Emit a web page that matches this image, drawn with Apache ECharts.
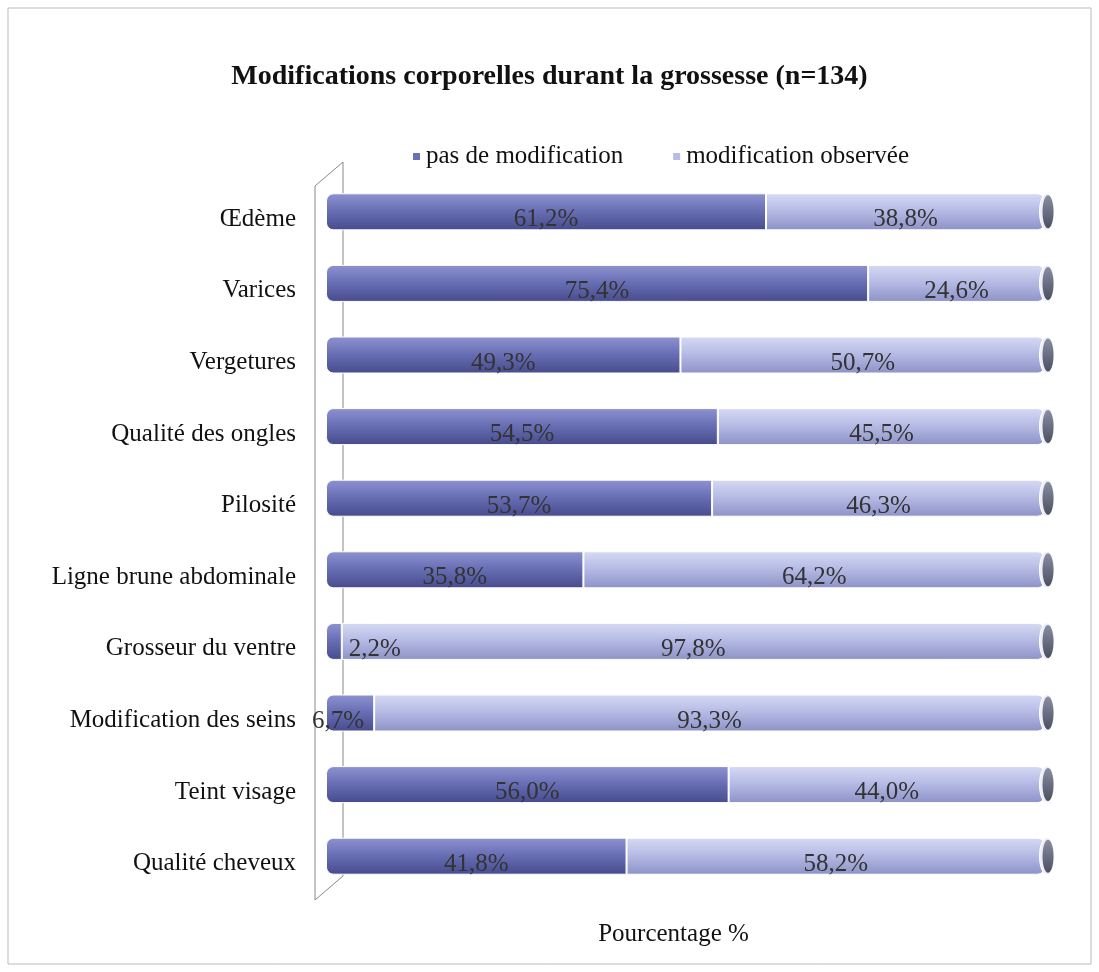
<!DOCTYPE html>
<html><head><meta charset="utf-8">
<script src="https://cdn.jsdelivr.net/npm/echarts@6/dist/echarts.min.js"></script>
<style>html,body{margin:0;padding:0;background:#fff}#c{width:1099px;height:972px}</style>
</head><body><div id="c"></div>
<script>
const categories = ['Œdème','Varices','Vergetures','Qualité des ongles','Pilosité','Ligne brune abdominale','Grosseur du ventre','Modification des seins','Teint visage','Qualité cheveux'];
const pasDeModification = [61.2,75.4,49.3,54.5,53.7,35.8,2.2,6.7,56.0,41.8];
const modificationObservee = [38.8,24.6,50.7,45.5,46.3,64.2,97.8,93.3,44.0,58.2];
const seriesNames = ['pas de modification','modification observée'];

const serif = '"Liberation Serif","DejaVu Serif",serif';
const fmt = p => p.value.toFixed(1).replace('.', ',') + '%';
const grad = (a,b,c) => new echarts.graphic.LinearGradient(0,0,0,1,[
  {offset:0,color:a},{offset:0.45,color:b},{offset:1,color:c}]);

const chart = echarts.init(document.getElementById('c'));
chart.setOption({
  backgroundColor:'#fff',
  title:{text:'Modifications corporelles durant la grossesse (n=134)',left:'center',top:58,
    textStyle:{fontFamily:serif,fontSize:28,fontWeight:'bold',color:'#111'}},
  legend:{top:139,left:406,itemWidth:9,itemHeight:9,itemGap:48,icon:'rect',
    textStyle:{fontFamily:serif,fontSize:25,color:'#111'},
    data:[{name:seriesNames[0],itemStyle:{color:'#6a70b5'}},{name:seriesNames[1],itemStyle:{color:'#b7bce6'}}]},
  grid:{left:326,right:54,top:176,bottom:80,containLabel:false},
  xAxis:{type:'value',min:0,max:100,axisLabel:{show:false},splitLine:{show:false},axisLine:{show:false},axisTick:{show:false},
    name:'Pourcentage %',nameLocation:'middle',nameGap:30,
    nameTextStyle:{fontFamily:serif,fontSize:25,color:'#111',padding:[0,24,0,0]}},
  yAxis:{type:'category',inverse:true,data:categories,axisLine:{show:false},axisTick:{show:false},
    axisLabel:{margin:30,formatter:v=>'{l|'+v+'}',
      rich:{l:{fontFamily:serif,fontSize:25,color:'#111',padding:[15,0,0,0]}}}},
  graphic:[
    {type:'rect',shape:{x:8,y:8,width:1083,height:956},style:{fill:null,stroke:'#bbb',lineWidth:1},silent:true},
    {type:'polygon',shape:{points:[[315,186],[343,162],[343,876],[315,900]]},style:{fill:null,stroke:'#888',lineWidth:1},silent:true,z:-1}
  ],
  series:[
    {name:seriesNames[0],type:'bar',stack:'t',barWidth:37,
      itemStyle:{color:grad('#8d93d0','#6a70b5','#454b8c'),borderColor:'#fff',borderWidth:1,borderRadius:[7,0,0,7]},
      label:{show:true,position:'inside',offset:[0,8],formatter:fmt,fontFamily:serif,fontSize:25,color:'#333'},
      data:pasDeModification.map(v=> v<5 ? {value:v,label:{position:'right',offset:[2,8]}} : (v<10 ? {value:v,label:{offset:[-12,8]}} : v))},
    {name:seriesNames[1],type:'bar',stack:'t',barWidth:37,
      itemStyle:{color:grad('#d6daf3','#b7bce6','#8c92c6'),borderColor:'#fff',borderWidth:1,borderRadius:[0,7,7,0]},
      label:{show:true,position:'inside',offset:[0,8],formatter:fmt,fontFamily:serif,fontSize:25,color:'#333'},
      data:modificationObservee},
    {name:'cap',type:'custom',silent:true,z:5,
      data:categories.map((c,i)=>[100,i]),
      renderItem:(params,api)=>{
        const p = api.coord([api.value(0), api.value(1)]);
        return {type:'group',children:[
          {type:'ellipse',shape:{cx:p[0]+2,cy:p[1],rx:7.5,ry:18.5},style:{fill:'#eceef6',stroke:'#ffffff',lineWidth:1}},
          {type:'ellipse',shape:{cx:p[0]+3,cy:p[1],rx:5.5,ry:16.5},
            style:{fill:new echarts.graphic.LinearGradient(0,0,0,1,[{offset:0,color:'#8a8ea3'},{offset:0.5,color:'#6a6e82'},{offset:1,color:'#4c5062'}])}}
        ]};
      }}
  ]
});
</script></body></html>
